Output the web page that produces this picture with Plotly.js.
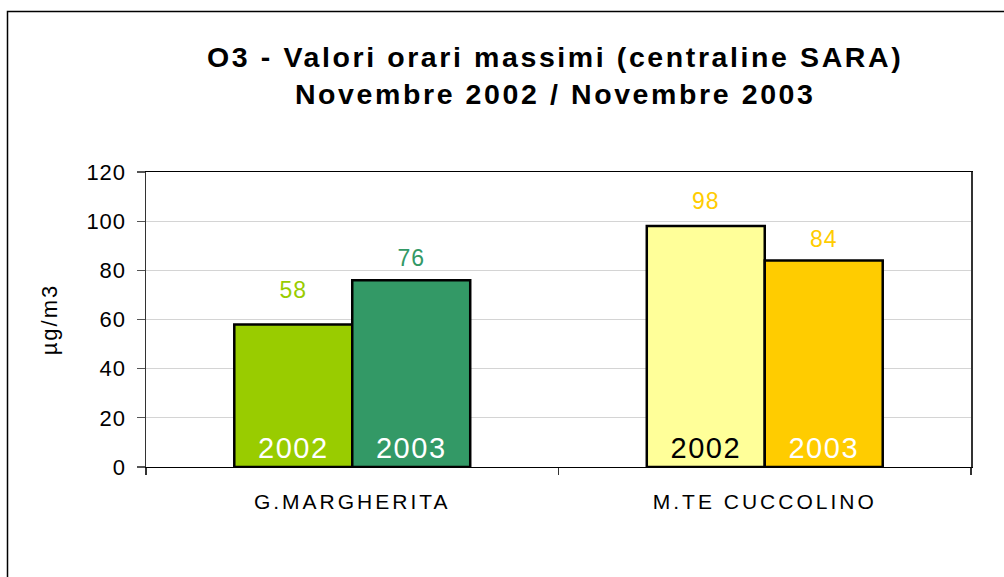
<!DOCTYPE html>
<html>
<head>
<meta charset="utf-8">
<script src="https://cdn.plot.ly/plotly-3.0.1.min.js"></script>
<style>
  html, body { margin: 0; padding: 0; background: #fff; }
  #chart { width: 1004px; height: 577px; }
  .gtitle { letter-spacing: 2.6px; }
  .xtick text { letter-spacing: 3px; }
  .ytick text { letter-spacing: 1px; }
  .ytitle { letter-spacing: 2px; }
  .bartext { letter-spacing: 1.5px; }
  .textpoint text { letter-spacing: 1px; }
</style>
</head>
<body>
<div id="chart"></div>
<script>
const stations = ["G.MARGHERITA", "M.TE CUCCOLINO"];
const values2002 = [58, 98];
const values2003 = [76, 84];
const years = ["2002", "2003"];
const colors2002 = ["#99CC00", "#FFFF99"];
const colors2003 = ["#339966", "#FFCC00"];
const yearLabelColors2002 = ["#FFFFFF", "#000000"];
const yearLabelColors2003 = ["#FFFFFF", "#FFFFFF"];
const valueLabelColors2002 = ["#99CC00", "#FFCC00"];
const valueLabelColors2003 = ["#339966", "#FFCC00"];
const yTicks = [0, 20, 40, 60, 80, 100, 120];
// invisible marker sizes: only used to set the distance of each value label above its bar
const labelGap2002 = [32, 16];
const labelGap2003 = [12, 11];

const FONT = "Liberation Sans, Arial, sans-serif";

function barTrace(vals, colors, year, labelColors, group) {
  return {
    type: "bar",
    x: stations,
    y: vals,
    offsetgroup: group,
    marker: { color: colors, line: { color: "#000000", width: 2.5 } },
    text: stations.map(() => year),
    textposition: "inside",
    insidetextanchor: "start",
    textangle: 0,
    constraintext: "none",
    insidetextfont: { family: FONT, size: 29, color: labelColors },
    hoverinfo: "skip",
    showlegend: false
  };
}

function labelTrace(vals, labelColors, gaps, group) {
  return {
    type: "scatter",
    mode: "markers+text",
    x: stations,
    y: vals,
    offsetgroup: group,
    marker: { size: gaps, opacity: 0 },
    text: vals.map(String),
    textposition: "top center",
    textfont: { family: FONT, size: 23, color: labelColors },
    hoverinfo: "skip",
    showlegend: false,
    cliponaxis: false
  };
}

const data = [
  barTrace(values2002, colors2002, years[0], yearLabelColors2002, "a"),
  barTrace(values2003, colors2003, years[1], yearLabelColors2003, "b"),
  labelTrace(values2002, valueLabelColors2002, labelGap2002, "a"),
  labelTrace(values2003, valueLabelColors2003, labelGap2003, "b")
];

const layout = {
  width: 1004,
  height: 577,
  margin: { l: 146, r: 33, t: 172, b: 110, pad: 0 },
  paper_bgcolor: "#ffffff",
  plot_bgcolor: "#ffffff",
  barmode: "group",
  scattermode: "group",
  bargap: 0.428,
  bargroupgap: 0,
  font: { family: FONT, color: "#000000" },
  title: {
    text: "O3 - Valori orari massimi (centraline SARA)<br>Novembre 2002 / Novembre 2003",
    font: { family: FONT, size: 28.5, color: "#000000", weight: "bold" },
    x: 0.553,
    xanchor: "center",
    xref: "container",
    y: 1 - 67 / 577,
    yanchor: "top",
    yref: "container"
  },
  xaxis: {
    type: "category",
    showline: true,
    linecolor: "#000000",
    linewidth: 1.2,
    mirror: true,
    ticks: "outside",
    tickson: "boundaries",
    ticklen: 7,
    tickcolor: "#333333",
    tickwidth: 1.2,
    showgrid: false,
    tickfont: { family: FONT, size: 21, color: "#000000" },
    ticklabelstandoff: 16,
    fixedrange: true
  },
  yaxis: {
    range: [0, 120],
    tickvals: yTicks,
    ticktext: yTicks.map(String),
    showline: true,
    linecolor: "#333333",
    linewidth: 1.5,
    mirror: true,
    ticks: "outside",
    ticklen: 8,
    tickcolor: "#555555",
    tickwidth: 1.3,
    showgrid: true,
    gridcolor: "#d4d4d4",
    gridwidth: 1,
    zeroline: false,
    tickfont: { family: FONT, size: 22, color: "#000000" },
    ticklabelstandoff: 6,
    title: {
      text: "µg/m3",
      font: { family: FONT, size: 22, color: "#000000" },
      standoff: 22
    },
    fixedrange: true
  },
  shapes: [
    {
      type: "rect",
      xref: "paper", yref: "paper",
      x0: (7.5 - 146) / 825, x1: 1.3,
      y0: -0.6, y1: (467 - 11.5) / 295,
      line: { color: "#000000", width: 1.5 },
      fillcolor: "rgba(0,0,0,0)",
      layer: "below"
    }
  ]
};

Plotly.newPlot("chart", data, layout, { staticPlot: true, displayModeBar: false });
</script>
</body>
</html>
